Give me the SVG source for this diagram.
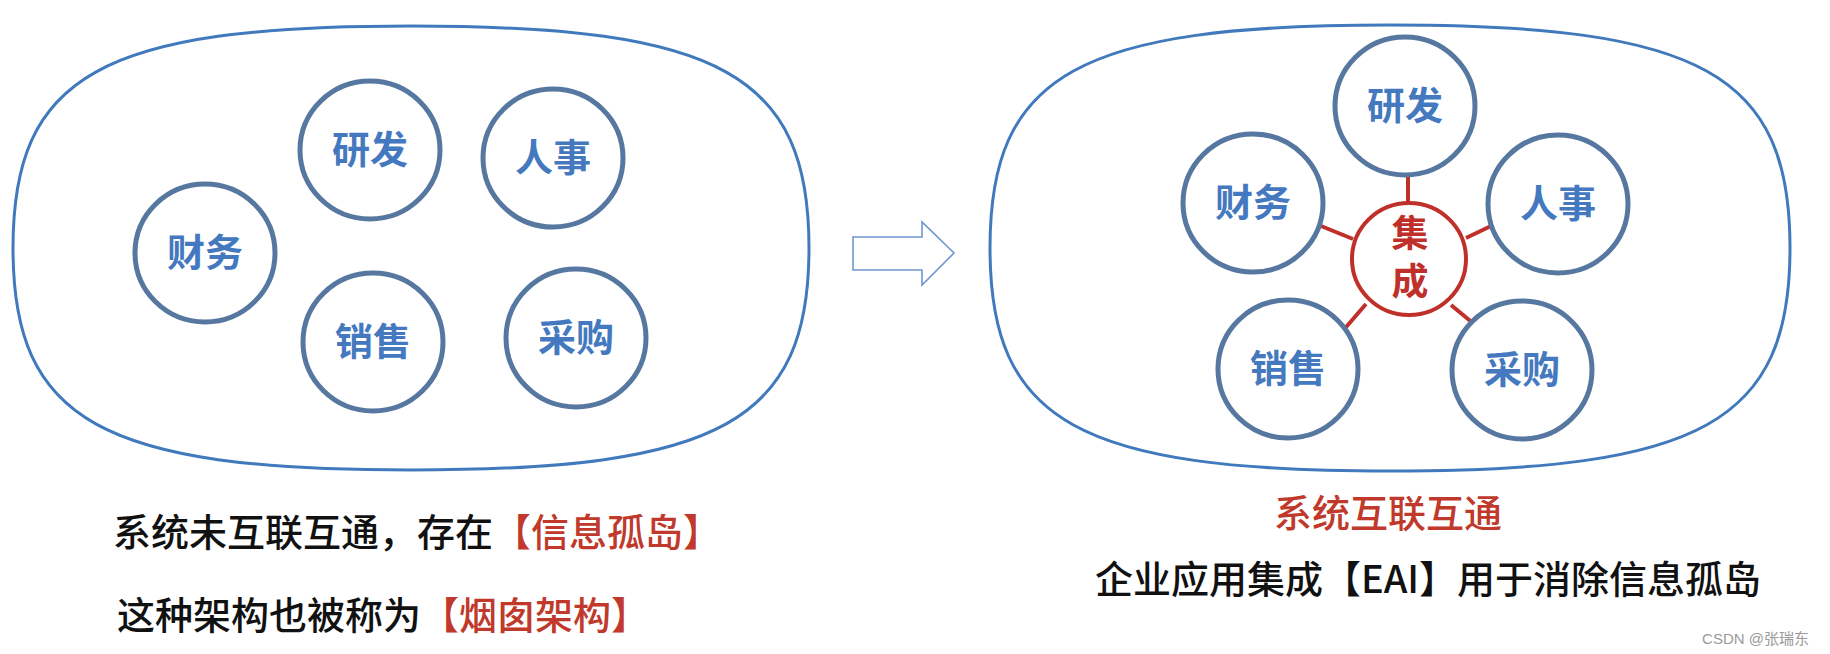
<svg xmlns="http://www.w3.org/2000/svg" width="1830" height="654" viewBox="0 0 1830 654">
<style>
.blob{fill:none;stroke:#4179bd;stroke-width:3}
.node{fill:#fff;stroke:#56779f;stroke-width:5}
.lbl{font-family:"Noto Sans CJK SC","Noto Sans",sans-serif;font-weight:bold;font-size:38px;fill:#4479bf;text-anchor:middle}
.hub{fill:#fff;stroke:#c0302a;stroke-width:4}
.hubt{font-family:"Noto Sans CJK SC","Noto Sans",sans-serif;font-weight:bold;font-size:37px;fill:#c0302a}
.link{stroke:#c0302a;stroke-width:4;fill:none}
.cap{font-family:"Noto Sans CJK SC","Noto Sans",sans-serif;font-weight:500;font-size:38px;fill:#111}
.red{fill:#c0392b}
.wm{font-family:"Liberation Sans","Noto Sans CJK SC",sans-serif;font-size:15px;fill:#9a9a9a}
</style>
<rect width="1830" height="654" fill="#fff"/>
<g id="left-container">
<path class="blob" d="M411,26 C721,26 809,75 809,248 C809,421 721,470 411,470 C101,470 13,421 13,248 C13,75 101,26 411,26 Z"/>
</g>
<g id="left-yanfa"><ellipse class="node" cx="370" cy="150" rx="70" ry="69"/><text class="lbl" x="370" y="163">研发</text></g>
<g id="left-renshi"><ellipse class="node" cx="553" cy="158" rx="70" ry="69"/><text class="lbl" x="553" y="171">人事</text></g>
<g id="left-caiwu"><ellipse class="node" cx="205" cy="253" rx="70" ry="69"/><text class="lbl" x="205" y="266">财务</text></g>
<g id="left-xiaoshou"><ellipse class="node" cx="373" cy="342" rx="70" ry="69"/><text class="lbl" x="373" y="355">销售</text></g>
<g id="left-caigou"><ellipse class="node" cx="576" cy="338" rx="70" ry="69"/><text class="lbl" x="576" y="351">采购</text></g>

<g id="arrow">
<path d="M853,237 L922,237 L922,222 L954,253 L922,285 L922,270 L853,270 Z" fill="#fff" stroke="#6f97cf" stroke-width="1.6"/>
</g>

<g id="right-container">
<path class="blob" d="M1390,25 C1702,25 1790,74 1790,248 C1790,422 1702,471 1390,471 C1078,471 990,422 990,248 C990,74 1078,25 1390,25 Z"/>
</g>
<g id="connectors">
<line class="link" x1="1408" y1="176" x2="1408" y2="204"/>
<line class="link" x1="1321" y1="226" x2="1353" y2="239"/>
<line class="link" x1="1466" y1="238" x2="1491" y2="226"/>
<line class="link" x1="1366" y1="304" x2="1341" y2="333"/>
<line class="link" x1="1451" y1="305" x2="1474" y2="324"/>
</g>
<g id="right-yanfa"><ellipse class="node" cx="1405" cy="106" rx="70" ry="69"/><text class="lbl" x="1405" y="119">研发</text></g>
<g id="right-caiwu"><ellipse class="node" cx="1253" cy="203" rx="70" ry="69"/><text class="lbl" x="1253" y="216">财务</text></g>
<g id="right-renshi"><ellipse class="node" cx="1558" cy="204" rx="70" ry="69"/><text class="lbl" x="1558" y="217">人事</text></g>
<g id="right-xiaoshou"><ellipse class="node" cx="1288" cy="369" rx="70" ry="69"/><text class="lbl" x="1288" y="382">销售</text></g>
<g id="right-caigou"><ellipse class="node" cx="1522" cy="370" rx="70" ry="69"/><text class="lbl" x="1522" y="383">采购</text></g>
<g id="hub"><ellipse class="hub" cx="1409" cy="259" rx="57" ry="56"/><text class="hubt" x="1410" y="262" writing-mode="vertical-rl" text-anchor="middle" letter-spacing="11">集成</text></g>

<g id="captions">
<text class="cap" x="113" y="546">系统未互联互通，存在<tspan class="red">【信息孤岛】</tspan></text>
<text class="cap" x="117" y="629">这种架构也被称为<tspan class="red">【烟囱架构】</tspan></text>
<text class="cap red" x="1388" y="527" text-anchor="middle" font-size="38.5px">系统互联互通</text>
<text class="cap" x="1428" y="593" text-anchor="middle" font-size="39px">企业应用集成【EAI】用于消除信息孤岛</text>
<text class="wm" x="1809" y="644" text-anchor="end">CSDN @张瑞东</text>
</g>
</svg>
